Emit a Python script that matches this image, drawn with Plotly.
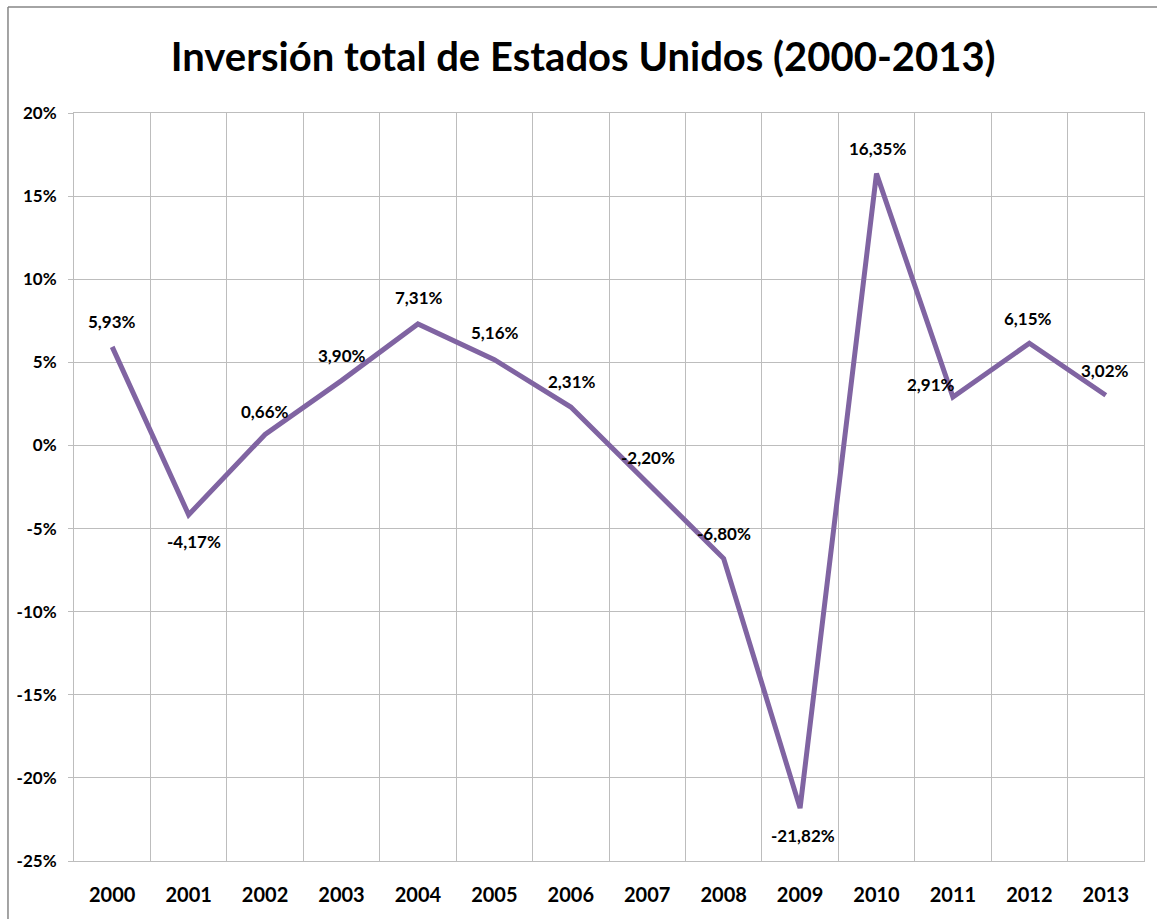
import plotly.graph_objects as go

years = ["2000", "2001", "2002", "2003", "2004", "2005", "2006",
         "2007", "2008", "2009", "2010", "2011", "2012", "2013"]
values = [5.93, -4.17, 0.66, 3.90, 7.31, 5.16, 2.31,
          -2.20, -6.80, -21.82, 16.35, 2.91, 6.15, 3.02]
y_tickvals = [20, 15, 10, 5, 0, -5, -10, -15, -20, -25]
y_ticktext = ["20%", "15%", "10%", "5%", "0%", "-5%", "-10%", "-15%", "-20%", "-25%"]
title_text = "Inversión total de Estados Unidos (2000-2013)"

# label offsets (pixels) relative to each point
label_dx = [0, 5, 0, 0, 1, 1, 1, 1, 0, 3, 1, -22, -1, -1]
label_dy = [-25, 27, -23, -25, -26, -27, -26, -25, -25, 27, -25, -13, -25, -25]

LINE = "#8064A2"
GRID = "#BDBDBD"
FONT = "Lato"

fig = go.Figure()
fig.add_trace(go.Scatter(
    x=years, y=values, mode="lines",
    line=dict(color=LINE, width=5),
    hoverinfo="skip", showlegend=False,
))

for i, (v, dx, dy) in enumerate(zip(values, label_dx, label_dy)):
    fig.add_annotation(
        x=i, y=v, xref="x", yref="y",
        text=f"{v:.2f}".replace(".", ",") + "%",
        showarrow=False, xshift=dx, yshift=-dy,
        font=dict(family=FONT, size=17, color="#000000", weight="bold"),
    )

fig.add_shape(type="line", xref="paper", yref="paper",
              x0=-0.0617, x1=1.2, y0=1.1417, y1=1.1417,
              line=dict(color="#868686", width=1.5))
fig.add_shape(type="line", xref="paper", yref="paper",
              x0=-0.0617, x1=-0.0617, y0=1.1417, y1=-0.2,
              line=dict(color="#868686", width=1.5))

fig.update_layout(
    width=1157, height=919,
    margin=dict(l=74, r=13, t=113, b=58),
    paper_bgcolor="white", plot_bgcolor="white",
    title=dict(text=title_text, x=0.504, xanchor="center", y=0.938, yanchor="middle",
               font=dict(family=FONT, size=40, color="#000000", weight="bold")),
    xaxis=dict(
        type="category", tickson="boundaries", showgrid=True,
        gridcolor=GRID, gridwidth=1, showline=True, linecolor=GRID, mirror=True,
        ticks="", ticklabelstandoff=16,
        tickfont=dict(family=FONT, size=20, color="#000000", weight="bold"),
        range=[-0.5, 13.5],
    ),
    yaxis=dict(
        range=[-25, 20], tickvals=y_tickvals, ticktext=y_ticktext,
        showgrid=True, gridcolor=GRID, gridwidth=1, zeroline=False,
        showline=True, linecolor=GRID, mirror=True,
        ticks="outside", ticklen=5, tickcolor=GRID, ticklabelstandoff=8,
        tickfont=dict(family=FONT, size=17, color="#000000", weight="bold"),
    ),
)

fig.write_html("out.html", config={"displayModeBar": False},
               post_script="document.body.style.margin='0';")
